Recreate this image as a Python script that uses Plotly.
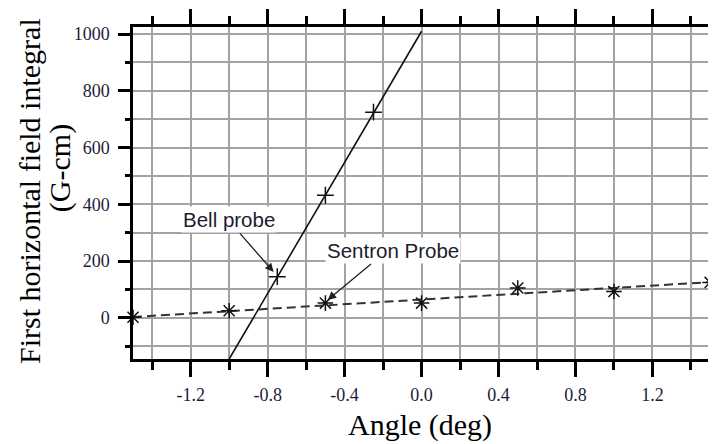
import plotly.graph_objects as go

# Sentron probe measurements
sentron_x = [-1.5, -1.0, -0.5, 0.0, 0.5, 1.0, 1.5]
sentron_y = [2, 25, 52, 52, 105, 93, 125]
sentron_fit_x = [-1.5, 1.5]
sentron_fit_y = [3, 126]

# Bell probe measurements
bell_x = [-0.75, -0.5, -0.25]
bell_y = [145, 432, 725]
bell_fit_x = [-1.0, 0.0]
bell_fit_y = [-145, 1010]

x_ticks = [-1.2, -0.8, -0.4, 0.0, 0.4, 0.8, 1.2]
x_tick_labels = ["-1.2", "-0.8", "-0.4", "0.0", "0.4", "0.8", "1.2"]
y_ticks = [0, 200, 400, 600, 800, 1000]
y_tick_labels = ["0", "200", "400", "600", "800", "1000"]

fig = go.Figure()
fig.add_trace(go.Scatter(x=sentron_fit_x, y=sentron_fit_y, mode="lines",
                         line=dict(color="#333333", width=2, dash="9px,5px"),
                         showlegend=False, hoverinfo="skip"))
fig.add_trace(go.Scatter(x=sentron_x, y=sentron_y, mode="markers",
                         marker=dict(symbol="asterisk-open", size=13, color="#111111",
                                     line=dict(color="#111111", width=1.5)),
                         name="Sentron Probe", showlegend=False, cliponaxis=False))
fig.add_trace(go.Scatter(x=bell_fit_x, y=bell_fit_y, mode="lines",
                         line=dict(color="#111111", width=1.6),
                         showlegend=False, hoverinfo="skip"))
fig.add_trace(go.Scatter(x=bell_x, y=bell_y, mode="markers",
                         marker=dict(symbol="cross-thin-open", size=12, color="#111111",
                                     line=dict(color="#111111", width=1.5)),
                         name="Bell probe", showlegend=False))

tickfont = dict(family="Liberation Serif", size=18, color="#1c1c3a")
axis_common = dict(
    showline=True, linecolor="black", linewidth=2.5, mirror="allticks",
    ticks="outside", tickwidth=2.5, tickcolor="black",
    showgrid=True, gridcolor="#a3a3a3", gridwidth=1.5,
    zeroline=False, tickfont=tickfont, automargin=False,
)
fig.update_xaxes(range=[-1.5, 1.52], tickvals=x_ticks, ticktext=x_tick_labels,
                 ticklen=15,
                 minor=dict(dtick=0.2, tick0=0, ticks="outside", ticklen=8,
                            tickwidth=2.5, tickcolor="black", showgrid=True,
                            gridcolor="#a3a3a3", gridwidth=1.5),
                 ticklabelstandoff=3, **axis_common)
fig.update_yaxes(range=[-145, 1025], tickvals=y_ticks, ticktext=y_tick_labels,
                 ticklen=12,
                 minor=dict(dtick=100, tick0=0, ticks="outside", ticklen=5,
                            tickwidth=2.5, tickcolor="black", showgrid=True,
                            gridcolor="#a3a3a3", gridwidth=1.5),
                 ticklabelstandoff=5, **axis_common)

annfont = dict(family="Liberation Sans", size=20.5, color="#1c1c2e")
titlefont = dict(family="Liberation Serif", size=30, color="black")
annotations = [
    dict(x=-1.003, y=345, xref="x", yref="y", text="Bell probe", showarrow=False,
         font=annfont, bgcolor="white"),
    dict(x=-0.151, y=239, xref="x", yref="y", text="Sentron Probe", showarrow=False,
         font=annfont, bgcolor="white"),
    dict(x=-0.769, y=162, ax=-0.951, ay=303, xref="x", yref="y", axref="x", ayref="y",
         text="", showarrow=True, arrowhead=2, arrowsize=1.3, arrowwidth=1.3,
         arrowcolor="#222222"),
    dict(x=-0.488, y=63, ax=-0.255, ay=194, xref="x", yref="y", axref="x", ayref="y",
         text="", showarrow=True, arrowhead=2, arrowsize=1.3, arrowwidth=1.3,
         arrowcolor="#222222"),
    dict(x=0.494, y=-0.199, xref="paper", yref="paper", text="Angle (deg)",
         xanchor="center", yanchor="middle", showarrow=False, font=titlefont),
    dict(x=-0.179, y=0.506, xref="paper", yref="paper",
         text="First horizontal field integral", textangle=-90,
         xanchor="center", yanchor="middle", showarrow=False, font=titlefont),
    dict(x=-0.1256, y=0.575, xref="paper", yref="paper", text="(G-cm)",
         textangle=-90, xanchor="center", yanchor="middle",
         showarrow=False, font=titlefont),
]

# page body has an 8px margin, so the figure is sized to fill the rest of the window
fig.update_layout(
    width=708, height=436,
    margin=dict(l=125, r=2, t=19, b=85),
    paper_bgcolor="white", plot_bgcolor="white",
    annotations=annotations,
    showlegend=False,
)
fig.write_html("out.html")
